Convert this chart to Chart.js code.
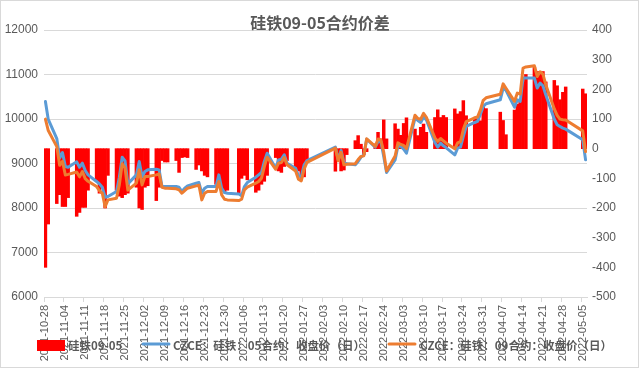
<!DOCTYPE html>
<html>
<head>
<meta charset="utf-8">
<script src="https://cdn.jsdelivr.net/npm/chart.js@4.4.1/dist/chart.umd.min.js"></script>
<style>
  html, body { margin: 0; padding: 0; background: #fff; }
  #chart { display: block; }
</style>
</head>
<body>
<canvas id="chart" width="639" height="368"></canvas>
<script>
// trading days
const tradeDates = [
  '2021-10-28','2021-10-29',
  '2021-11-01','2021-11-02','2021-11-03','2021-11-04','2021-11-05',
  '2021-11-08','2021-11-09','2021-11-10','2021-11-11','2021-11-12',
  '2021-11-15','2021-11-16','2021-11-17','2021-11-18','2021-11-19',
  '2021-11-22','2021-11-23','2021-11-24','2021-11-25','2021-11-26',
  '2021-11-29','2021-11-30','2021-12-01','2021-12-02','2021-12-03',
  '2021-12-06','2021-12-07','2021-12-08','2021-12-09','2021-12-10',
  '2021-12-13','2021-12-14','2021-12-15','2021-12-16','2021-12-17',
  '2021-12-20','2021-12-21','2021-12-22','2021-12-23','2021-12-24',
  '2021-12-27','2021-12-28','2021-12-29','2021-12-30','2021-12-31',
  '2022-01-04','2022-01-05','2022-01-06','2022-01-07',
  '2022-01-10','2022-01-11','2022-01-12','2022-01-13','2022-01-14',
  '2022-01-17','2022-01-18','2022-01-19','2022-01-20','2022-01-21',
  '2022-01-24','2022-01-25','2022-01-26','2022-01-27','2022-01-28',
  '2022-02-07','2022-02-08','2022-02-09','2022-02-10','2022-02-11',
  '2022-02-14','2022-02-15','2022-02-16','2022-02-17','2022-02-18',
  '2022-02-21','2022-02-22','2022-02-23','2022-02-24','2022-02-25',
  '2022-02-28','2022-03-01','2022-03-02','2022-03-03','2022-03-04',
  '2022-03-07','2022-03-08','2022-03-09','2022-03-10','2022-03-11',
  '2022-03-14','2022-03-15','2022-03-16','2022-03-17','2022-03-18',
  '2022-03-21','2022-03-22','2022-03-23','2022-03-24','2022-03-25',
  '2022-03-28','2022-03-29','2022-03-30','2022-03-31','2022-04-01',
  '2022-04-06','2022-04-07','2022-04-08',
  '2022-04-11','2022-04-12','2022-04-13','2022-04-14','2022-04-15',
  '2022-04-18','2022-04-19','2022-04-20','2022-04-21','2022-04-22',
  '2022-04-25','2022-04-26','2022-04-27','2022-04-28','2022-04-29',
  '2022-05-05','2022-05-06'
];

// CZCE 硅铁 05 合约收盘价 (blue)
const close05 = [
  10395, 9990,
  9560, 9120, 9247, 8932, 8917,
  9037, 8917, 9007, 8842, 8745,
  8595, 8542, 8467, 8242, 8257,
  8370, 8692, 9142, 9060, 8542,
  8745, 9045, 8700, 8820, 8857,
  8872, 8857, 8482, 8482, 8482,
  8482, 8467, 8370, 8445, 8497,
  8557, 8572, 8332, 8445, 8482,
  8482, 8745, 8445, 8347, 8332,
  8317, 8272, 8482, 8572,
  8692, 8745, 8797, 9045, 9232,
  8895, 9082, 9097, 9195, 9007,
  8895, 8722, 8707, 8970, 9067,
  9367, 9082, 9292, 9022, 8992,
  8970, 9045, 9142, 9195, 9547,
  9367, 9495, 9495, 9157, 8797,
  9082, 9397, 9382, 9322, 9232,
  10020, 9967, 9922, 10042, 9982,
  9472, 9367, 9457, 9397, 9352,
  9195, 9345, 9367, 9607, 9832,
  9922, 9945, 10110, 10282, 10342,
  10432, 10695, 10642,
  10267, 10432, 10395, 10920, 10920,
  10920, 10695, 10807, 10747, 10545,
  9997, 9870, 9832, 9795, 9772,
  9532, 9082
];

// CZCE 硅铁 09 合约收盘价 (orange)
const close09 = [
  9997, 9740,
  9380, 8960, 9050, 8740, 8755,
  8810, 8700, 8820, 8660, 8600,
  8482, 8392, 8332, 8030, 8182,
  8220, 8520, 8992, 8900, 8400,
  8557, 8857, 8520, 8707, 8707,
  8745, 8767, 8467, 8445, 8445,
  8430, 8407, 8332, 8392, 8445,
  8497, 8512, 8182, 8332, 8370,
  8370, 8595, 8295, 8197, 8182,
  8167, 8197, 8407, 8467,
  8557, 8595, 8670, 8932, 9142,
  8870, 9007, 9020, 9135, 8970,
  8830, 8647, 8610, 8875, 9027,
  9345, 9060, 9250, 8970, 8985,
  8997, 9090, 9160, 9175, 9555,
  9383, 9550, 9528, 9254, 8830,
  9166, 9463, 9427, 9407, 9336,
  10086, 10011, 9994, 10125, 10037,
  9577, 9498, 9562, 9509, 9457,
  9329, 9462, 9492, 9769, 9943,
  10028, 10045, 10204, 10421, 10477,
  10555, 10790, 10689,
  10397, 10582, 10560, 11145, 11170,
  11195, 10955, 11062, 11007, 10770,
  10227, 10082, 9997, 9985, 9980,
  9733, 9267
];

// 硅铁09-05 价差 (red bars, right axis)
const spread = [
  -400, -254,
  -185, -155, -195, -195, -165,
  -228, -215, -198, -198, -140,
  -110, -150, -130, -200, -90,
  -140, -160, -165, -155, -150,
  -130, -200, -205, -130, -125,
  -175, -130, -40, -45, -45,
  -40, -80, -30, -28, -30,
  -70, -55, -75, -90, -95,
  -120, -130, -140, -145, -140,
  -150, -100, -90, -105,
  -147, -140, -120, -110, -90,
  -30, -75, -80, -60, -40,
  -65, -75, -100, -95, -40,
  -76, -35, -75, -72, -20,
  27, 44, 15, -20, -10,
  16, 55, 33, 97, 33,
  84, 66, 45, 85, 104,
  66, 44, 72, 83, 55,
  105, 131, 105, 112, 105,
  134, 117, 125, 162, 111,
  106, 100, 94, 139, 135,
  123, 95, 47,
  130, 150, 165, 225, 250,
  275, 260, 255, 260, 225,
  230, 212, 165, 190, 208,
  201, 185
];

const seriesNames = ['硅铁09-05', 'CZCE：硅铁：05合约：收盘价（日）', 'CZCE：硅铁：09合约：收盘价（日）'];
const leftTicks = { min: 6000, max: 12000, step: 1000 };
const rightTicks = { min: -500, max: 400, step: 100 };

// calendar axis: every day from first to last date, like Excel's date axis
const calendar = [];
const day = new Date(tradeDates[0] + 'T00:00:00Z');
const lastDay = new Date(tradeDates[tradeDates.length - 1] + 'T00:00:00Z');
while (day <= lastDay) {
    calendar.push(day.toISOString().slice(0, 10));
    day.setUTCDate(day.getUTCDate() + 1);
}

function onCalendar(values) {
    const out = calendar.map(() => null);
    tradeDates.forEach((d, i) => { out[calendar.indexOf(d)] = values[i]; });
    return out;
}

const GRAY = '#595959';
const GRID = '#d9d9d9';
const CJK = '"Noto Sans CJK SC", "Microsoft YaHei", sans-serif';
const LATIN = '"Liberation Sans", Arial, sans-serif';

const decorPlugin = {
    id: 'decor',
    beforeDraw(chart) {
        const ctx = chart.ctx;
        ctx.save();
        ctx.fillStyle = '#fff';
        ctx.fillRect(0, 0, chart.width, chart.height);
        ctx.restore();
    },
    afterDraw(chart) {
        const ctx = chart.ctx;
        ctx.save();
        // outer frame
        ctx.strokeStyle = GRID;
        ctx.lineWidth = 1;
        ctx.strokeRect(0.5, 0.5, chart.width - 1, chart.height - 1);

        // title
        ctx.fillStyle = GRAY;
        ctx.font = 'bold 16px ' + CJK;
        ctx.textAlign = 'center';
        ctx.textBaseline = 'middle';
        ctx.fillText('硅铁09-05合约价差', 320, 23);

        // legend, drawn over the axis labels like the original
        ctx.textAlign = 'left';
        ctx.font = 'bold 11.5px ' + CJK;
        ctx.fillStyle = '#ff0000';
        ctx.fillRect(37, 340, 28, 11);
        ctx.fillStyle = GRAY;
        ctx.fillText(seriesNames[0], 68, 346);

        ctx.lineCap = 'round';
        ctx.lineWidth = 3;
        ctx.strokeStyle = '#5b9bd5';
        ctx.beginPath(); ctx.moveTo(143, 344); ctx.lineTo(169, 344); ctx.stroke();
        ctx.fillText(seriesNames[1], 173, 346);

        ctx.strokeStyle = '#ed7d31';
        ctx.beginPath(); ctx.moveTo(389, 344); ctx.lineTo(415, 344); ctx.stroke();
        ctx.fillText(seriesNames[2], 420, 346);
        ctx.restore();
    }
};

new Chart(document.getElementById('chart'), {
    type: 'bar',
    data: {
        labels: calendar,
        datasets: [
            {
                type: 'bar',
                label: seriesNames[0],
                data: onCalendar(spread),
                yAxisID: 'y1',
                backgroundColor: '#ff0000',
                borderWidth: 0,
                barPercentage: 1,
                categoryPercentage: 1,
                order: 3
            },
            {
                type: 'line',
                label: seriesNames[1],
                data: onCalendar(close05),
                yAxisID: 'y',
                borderColor: '#5b9bd5',
                borderWidth: 3,
                pointRadius: 0,
                tension: 0,
                spanGaps: true,
                borderJoinStyle: 'round',
                borderCapStyle: 'round',
                order: 2
            },
            {
                type: 'line',
                label: seriesNames[2],
                data: onCalendar(close09),
                yAxisID: 'y',
                borderColor: '#ed7d31',
                borderWidth: 3,
                pointRadius: 0,
                tension: 0,
                spanGaps: true,
                borderJoinStyle: 'round',
                borderCapStyle: 'round',
                order: 1
            }
        ]
    },
    options: {
        responsive: false,
        animation: false,
        events: [],
        layout: { padding: { top: 30, left: 0, right: 0, bottom: 0 } },
        plugins: {
            legend: { display: false },
            title: { display: false },
            tooltip: { enabled: false }
        },
        scales: {
            x: {
                offset: true,
                grid: {
                    offset: true,
                    drawOnChartArea: false,
                    drawTicks: true,
                    tickLength: 5,
                    color: ctx => (ctx.index % 7 === 0 ? GRID : 'rgba(0,0,0,0)')
                },
                border: { display: true, color: GRID },
                ticks: {
                    autoSkip: false,
                    minRotation: 90,
                    maxRotation: 90,
                    padding: 3,
                    color: GRAY,
                    font: { family: LATIN, size: 11 },
                    callback: (v, i) => (i % 7 === 0 ? calendar[i] : '')
                },
                afterFit: s => { s.height = 71; }
            },
            y: {
                position: 'left',
                min: leftTicks.min,
                max: leftTicks.max,
                ticks: {
                    stepSize: leftTicks.step,
                    padding: 6,
                    color: GRAY,
                    font: { family: LATIN, size: 12 },
                    callback: v => String(v)
                },
                grid: { color: GRID, drawTicks: false },
                border: { display: false },
                afterFit: s => { s.width = 44; }
            },
            y1: {
                position: 'right',
                min: rightTicks.min,
                max: rightTicks.max,
                ticks: {
                    stepSize: rightTicks.step,
                    padding: 5,
                    color: GRAY,
                    font: { family: LATIN, size: 12 },
                    callback: v => String(v)
                },
                grid: { display: false, drawTicks: false },
                border: { display: false },
                afterFit: s => { s.width = 52; }
            }
        }
    },
    plugins: [decorPlugin]
});
</script>
</body>
</html>
